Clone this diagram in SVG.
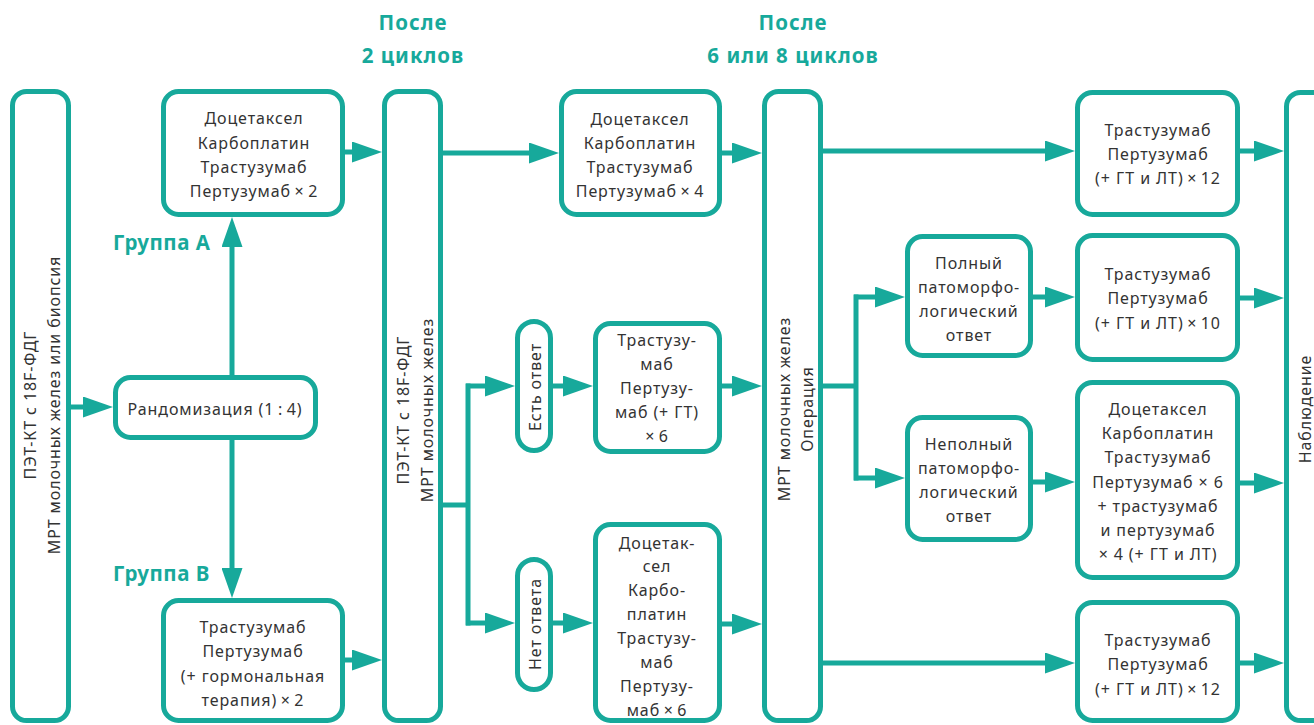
<svg xmlns="http://www.w3.org/2000/svg" width="1314" height="725" viewBox="0 0 1314 725">
<defs>
<style>
.box{fill:#fff;stroke:#17a99b;stroke-width:5}
.ln{fill:none;stroke:#17a99b;stroke-width:5}
.ar{fill:none;stroke:#17a99b;stroke-width:5;marker-end:url(#ah)}
.t{font-family:"Noto Sans","Open Sans","DejaVu Sans",sans-serif;font-size:16px;fill:#333;text-anchor:middle;letter-spacing:0.9px}
.h{font-family:"Noto Sans","Open Sans","DejaVu Sans",sans-serif;font-size:20.5px;font-weight:bold;fill:#17a99b;text-anchor:middle;letter-spacing:1px}
.g{font-family:"Noto Sans","Open Sans","DejaVu Sans",sans-serif;font-size:20.5px;font-weight:bold;fill:#17a99b;letter-spacing:0.5px}
</style>
<marker id="ah" viewBox="0 0 30 21" markerWidth="30" markerHeight="21" markerUnits="userSpaceOnUse" refX="20" refY="10.5" orient="auto">
<path d="M0,0 L30,10.5 L0,21 Z" fill="#17a99b"/>
</marker>
</defs>
<rect width="1314" height="725" fill="#fff"/>

<g id="headers">
<text class="h" x="413" y="30">После</text>
<text class="h" x="413" y="63">2 циклов</text>
<text class="h" x="793" y="30">После</text>
<text class="h" x="793" y="63">6 или 8 циклов</text>
<text class="g" x="113" y="250">Группа А</text>
<text class="g" x="113" y="581">Группа В</text>
</g>

<g id="connectors">
<path class="ar" d="M71,407 H103"/>
<path class="ar" d="M232,375 V227"/>
<path class="ar" d="M232,440 V588"/>
<path class="ar" d="M345,152 H372"/>
<path class="ar" d="M343,660 H372"/>
<path class="ar" d="M443,153 H549"/>
<path class="ar" d="M722,153 H752"/>
<path class="ln" d="M443,505 H468 M468,383.5 V625.5"/>
<path class="ar" d="M466,386 H505"/>
<path class="ar" d="M466,623 H505"/>
<path class="ar" d="M553,386 H583"/>
<path class="ar" d="M553,623 H583"/>
<path class="ar" d="M722,386 H752"/>
<path class="ar" d="M722,624 H752"/>
<path class="ar" d="M823,151 H1065"/>
<path class="ar" d="M823,663 H1065"/>
<path class="ln" d="M823,386 H856 M856,294.5 V480.5"/>
<path class="ar" d="M854,297 H895"/>
<path class="ar" d="M854,478 H895"/>
<path class="ar" d="M1033,297 H1065"/>
<path class="ar" d="M1033,482 H1065"/>
<path class="ar" d="M1240,151 H1274"/>
<path class="ar" d="M1240,298 H1274"/>
<path class="ar" d="M1240,483 H1274"/>
<path class="ar" d="M1240,663 H1274"/>
</g>

<g id="n-start">
<rect class="box" x="12.5" y="91.5" width="56" height="629" rx="14"/>
<text class="t" transform="translate(36,405) rotate(-90)">ПЭТ-КТ с 18F-ФДГ</text>
<text class="t" transform="translate(60,405) rotate(-90)">МРТ молочных желез или биопсия</text>
</g>

<g id="n-rand">
<rect class="box" x="115.5" y="377.5" width="200" height="60" rx="15"/>
<text class="t" x="215" y="415">Рандомизация (1&#8201;:&#8201;4)</text>
</g>

<g id="n-groupA">
<rect class="box" x="163.5" y="91.5" width="179" height="123" rx="15"/>
<text class="t" x="254" y="124">Доцетаксел</text>
<text class="t" x="254" y="149">Карбоплатин</text>
<text class="t" x="254" y="173">Трастузумаб</text>
<text class="t" x="254" y="197">Пертузумаб&#8201;×&#8201;2</text>
</g>

<g id="n-groupB">
<rect class="box" x="163.5" y="600.5" width="179" height="120" rx="15"/>
<text class="t" x="253" y="633">Трастузумаб</text>
<text class="t" x="253" y="657">Пертузумаб</text>
<text class="t" x="253" y="682">(+ гормональная</text>
<text class="t" x="253" y="706">терапия)&#8201;×&#8201;2</text>
</g>

<g id="n-pet2">
<rect class="box" x="384.5" y="91.5" width="56" height="629" rx="14"/>
<text class="t" transform="translate(409,410) rotate(-90)">ПЭТ-КТ с 18F-ФДГ</text>
<text class="t" transform="translate(433,410) rotate(-90)">МРТ молочных желез</text>
</g>

<g id="n-doc4">
<rect class="box" x="561.5" y="91.5" width="158" height="123" rx="15"/>
<text class="t" x="640" y="125">Доцетаксел</text>
<text class="t" x="640" y="149">Карбоплатин</text>
<text class="t" x="640" y="173">Трастузумаб</text>
<text class="t" x="640" y="197">Пертузумаб&#8201;×&#8201;4</text>
</g>

<g id="n-yes">
<rect class="box" x="517.5" y="321.5" width="33" height="129" rx="16.5"/>
<text class="t" transform="translate(541,387) rotate(-90)">Есть ответ</text>
</g>

<g id="n-no">
<rect class="box" x="517.5" y="559.5" width="33" height="130" rx="16.5"/>
<text class="t" transform="translate(541,624) rotate(-90)">Нет ответа</text>
</g>

<g id="n-tras6">
<rect class="box" x="595.5" y="323.5" width="124" height="128" rx="15"/>
<text class="t" x="657" y="346">Трастузу-</text>
<text class="t" x="657" y="370">маб</text>
<text class="t" x="657" y="394">Пертузу-</text>
<text class="t" x="657" y="418">маб (+ ГТ)</text>
<text class="t" x="657" y="442">×&#8201;6</text>
</g>

<g id="n-doc6">
<rect class="box" x="595.5" y="524.5" width="124" height="196" rx="15"/>
<text class="t" x="657" y="549">Доцетак-</text>
<text class="t" x="657" y="572">сел</text>
<text class="t" x="657" y="596">Карбо-</text>
<text class="t" x="657" y="620">платин</text>
<text class="t" x="657" y="644">Трастузу-</text>
<text class="t" x="657" y="668">маб</text>
<text class="t" x="657" y="692">Пертузу-</text>
<text class="t" x="657" y="716">маб&#8201;×&#8201;6</text>
</g>

<g id="n-surgery">
<rect class="box" x="764.5" y="91.5" width="56" height="629" rx="14"/>
<text class="t" transform="translate(790,409) rotate(-90)">МРТ молочных желез</text>
<text class="t" transform="translate(813,409) rotate(-90)">Операция</text>
</g>

<g id="n-full">
<rect class="box" x="907.5" y="236.5" width="123" height="119" rx="15"/>
<text class="t" x="969" y="269">Полный</text>
<text class="t" x="969" y="293">патоморфо-</text>
<text class="t" x="969" y="317">логический</text>
<text class="t" x="969" y="341">ответ</text>
</g>

<g id="n-partial">
<rect class="box" x="907.5" y="417.5" width="123" height="122" rx="15"/>
<text class="t" x="969" y="450">Неполный</text>
<text class="t" x="969" y="474">патоморфо-</text>
<text class="t" x="969" y="498">логический</text>
<text class="t" x="969" y="522">ответ</text>
</g>

<g id="n-r1">
<rect class="box" x="1077.5" y="92.5" width="160" height="122" rx="15"/>
<text class="t" x="1158" y="136">Трастузумаб</text>
<text class="t" x="1158" y="160">Пертузумаб</text>
<text class="t" x="1158" y="184">(+ ГТ и ЛТ)&#8201;×&#8201;12</text>
</g>

<g id="n-r2">
<rect class="box" x="1077.5" y="235.5" width="160" height="124" rx="15"/>
<text class="t" x="1158" y="280">Трастузумаб</text>
<text class="t" x="1158" y="304">Пертузумаб</text>
<text class="t" x="1158" y="329">(+ ГТ и ЛТ)&#8201;×&#8201;10</text>
</g>

<g id="n-r3">
<rect class="box" x="1077.5" y="382.5" width="160" height="195" rx="15"/>
<text class="t" x="1158" y="415">Доцетаксел</text>
<text class="t" x="1158" y="439">Карбоплатин</text>
<text class="t" x="1158" y="463">Трастузумаб</text>
<text class="t" x="1158" y="488">Пертузумаб × 6</text>
<text class="t" x="1158" y="512">+ трастузумаб</text>
<text class="t" x="1158" y="536">и пертузумаб</text>
<text class="t" x="1158" y="560">× 4 (+ ГТ и ЛТ)</text>
</g>

<g id="n-r4">
<rect class="box" x="1077.5" y="602.5" width="160" height="118" rx="15"/>
<text class="t" x="1158" y="646">Трастузумаб</text>
<text class="t" x="1158" y="670">Пертузумаб</text>
<text class="t" x="1158" y="695">(+ ГТ и ЛТ)&#8201;×&#8201;12</text>
</g>

<g id="n-observe">
<rect class="box" x="1286.5" y="92.5" width="60" height="628" rx="14"/>
<text class="t" transform="translate(1311,409) rotate(-90)">Наблюдение</text>
</g>
</svg>
